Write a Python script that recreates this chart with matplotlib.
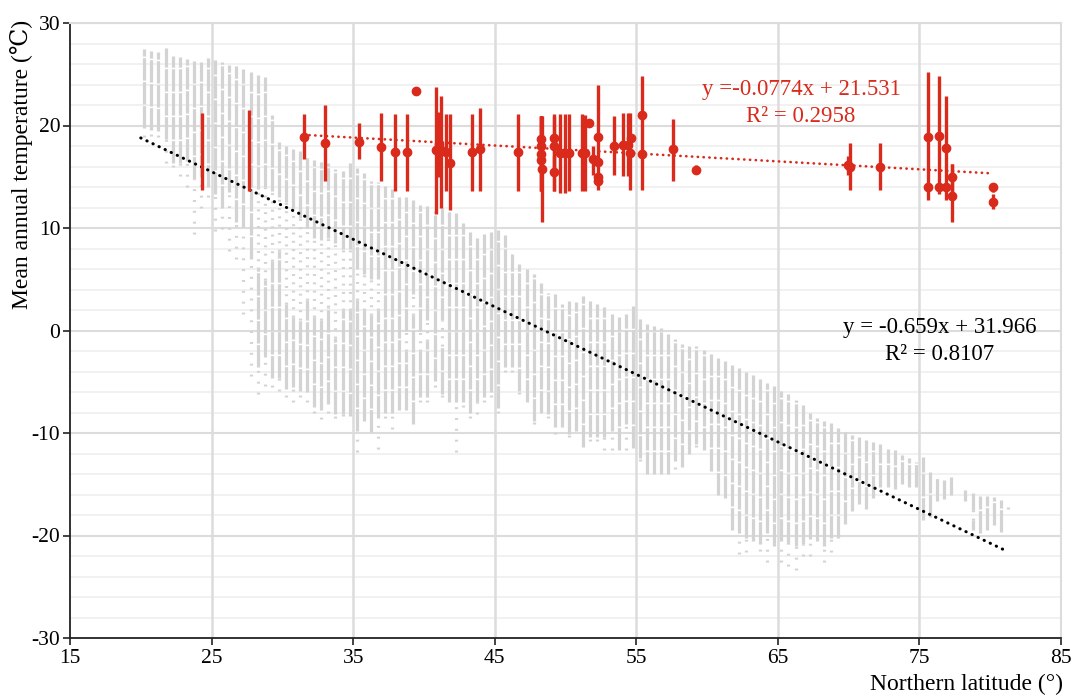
import numpy as np
import matplotlib
matplotlib.use("Agg")
import matplotlib.pyplot as plt

plt.rcParams["font.family"] = ["Liberation Serif", "DejaVu Serif"]
plt.rcParams["axes.unicode_minus"] = False

# ---- gray background cloud: one column per 0.5 deg latitude cell ----
# top / bottom of the dense strip, optional sparse gap inside it, sparse lowest dot
col_lat = [20.25, 20.75, 21.25, 21.75, 22.25, 22.75, 23.25, 23.75, 24.25, 24.75,
           25.25, 25.75, 26.25, 26.75, 27.25, 27.75, 28.25, 28.75, 29.25, 29.75,
           30.25, 30.75, 31.25, 31.75, 32.25, 32.75, 33.25, 33.75, 34.25, 34.75,
           35.25, 35.75, 36.25, 36.75, 37.25, 37.75, 38.25, 38.75, 39.25, 39.75,
           40.25, 40.75, 41.25, 41.75, 42.25, 42.75, 43.25, 43.75, 44.25, 44.75,
           45.25, 45.75, 46.25, 46.75, 47.25, 47.75, 48.25, 48.75, 49.25, 49.75,
           50.25, 50.75, 51.25, 51.75, 52.25, 52.75, 53.25, 53.75, 54.25, 54.75,
           55.25, 55.75, 56.25, 56.75, 57.25, 57.75, 58.25, 58.75, 59.25, 59.75,
           60.25, 60.75, 61.25, 61.75, 62.25, 62.75, 63.25, 63.75, 64.25, 64.75,
           65.25, 65.75, 66.25, 66.75, 67.25, 67.75, 68.25, 68.75, 69.25, 69.75,
           70.25, 70.75, 71.25, 71.75, 72.25, 72.75, 73.25, 73.75, 74.25, 74.75,
           75.25, 75.75, 76.25, 76.75, 77.25, 78.25, 78.75, 79.25, 79.75, 80.25,
           80.75, 81.25]
col_top = [27.5, 27.3, 27.2, 27.6, 26.8, 26.7, 26.5, 26.3, 26.2, 26.6,
           26.4, 26.2, 25.9, 25.8, 25.5, 25.2, 24.9, 24.7, 21.0, 18.4,
           18.0, 17.7, 17.5, 16.9, 16.6, 16.4, 16.3, 15.8, 15.6, 16.3,
           15.9, 15.4, 14.6, 14.5, 14.1, 13.8, 13.0, 13.0, 12.7, 12.2,
           12.1, 11.7, 12.0, 11.7, 11.5, 10.5, 9.6, 9.0, 9.4, 9.6,
           9.8, 9.3, 7.5, 6.5, 6.0, 5.5, 4.6, 3.7, 3.6, 2.6,
           2.9, 2.8, 3.4, 2.9, 2.6, 2.3, 1.6, 1.3, 1.6, 2.4,
           1.1, 0.6, 0.4, 0.2, -0.3, -0.8, -1.3, -1.5, -1.5, -1.9,
           -2.3, -2.7, -3.0, -3.4, -3.7, -4.0, -4.3, -4.7, -5.1, -5.4,
           -5.9, -6.2, -6.8, -7.3, -8.0, -8.5, -8.8, -9.0, -9.5, -9.9,
           -10.2, -10.4, -10.7, -10.9, -11.1, -11.6, -11.7, -12.1, -12.4, -12.8,
           -12.3, -13.8, -14.3, -14.6, -14.3, -15.6, -15.9, -16.1, -16.1, -16.2,
           -16.5, -17.2]
col_gap_hi = ([np.nan] * 16
              + [13.8, 14.0, 13.6, 13.0, 12.5, 12.0, 11.0, 10.0, 9.0, 8.8,
                 9.0, 8.5, 8.0, 8.0, 6.0, 5.5, 5.0, 5.0, np.nan, np.nan,
                 np.nan, 0.0, 3.6, 0.0, 1.0, np.nan, 1.0]
              + [np.nan] * 73 + [-17.5] + [np.nan] * 5)
col_gap_lo = ([np.nan] * 16
              + [6.0, 4.9, 6.8, 7.8, 2.6, 1.3, 1.0, 3.0, 1.3, 1.0,
                 2.3, -0.7, 2.0, 2.0, 3.0, 2.0, 1.5, 2.0, np.nan, np.nan,
                 np.nan, -2.0, 1.5, -2.0, -1.0, np.nan, -1.5]
              + [np.nan] * 73 + [-18.5] + [np.nan] * 5)
col_bot = [19.8, 19.6, 19.5, 18.7, 16.3, 16.3, 16.5, 14.8, 15.0, 14.0,
           13.3, 12.0, 13.5, 10.6, 10.1, 7.0, -3.6, -2.6, -4.6, -4.6,
           -5.7, -5.5, -5.9, -6.0, -7.5, -7.8, -7.2, -8.1, -8.1, -8.3,
           -9.8, -8.8, -9.9, -8.5, -8.0, -8.0, -7.8, -7.8, -9.1, -6.5,
           -6.5, -4.9, -6.2, -7.0, -7.0, -7.0, -8.0, -7.0, -6.5, -6.0,
           -7.6, -3.6, -3.6, -5.9, -7.0, -8.8, -8.0, -8.1, -9.4, -9.4,
           -10.1, -9.8, -11.4, -10.4, -10.4, -10.4, -9.8, -11.7, -9.1, -11.5,
           -12.4, -14.0, -14.0, -14.0, -14.0, -12.7, -13.3, -12.0, -11.1, -11.7,
           -13.7, -16.0, -16.3, -19.5, -19.8, -20.2, -20.5, -20.8, -19.8, -21.0,
           -20.5, -20.8, -21.0, -20.8, -20.3, -20.5, -21.0, -20.2, -20.2, -18.9,
           -17.6, -16.9, -17.4, -16.3, -15.3, -15.3, -15.5, -15.0, -15.3, -15.3,
           -18.5, -18.2, -16.6, -16.4, -16.0, -16.6, -19.5, -19.8, -19.5, -19.0,
           -19.7, -17.4]
col_min = [18.9, 19.0, 18.9, 16.3, 16.0, 15.1, 14.0, 9.4, 12.0, 13.0,
           9.7, 9.9, 7.8, 7.0, 1.6, -4.4, -6.2, -5.4, -5.5, -5.9,
           -6.5, -7.0, -6.5, -7.0, -8.0, -8.6, -8.0, -8.5, -8.3, -8.5,
           -11.9, -9.0, -10.0, -11.6, -8.5, -9.6, -8.0, -8.0, -9.1, -7.0,
           -7.0, -5.5, -6.5, -7.0, -11.9, -7.5, -8.5, -8.1, -7.0, -6.5,
           -8.0, -4.0, -4.0, -6.2, -7.0, -9.1, -8.0, -8.5, -10.1, -9.5,
           -10.4, -10.0, -11.4, -10.8, -10.8, -11.7, -11.7, -11.7, -11.7, -11.7,
           -12.7, -14.0, -14.2, -14.0, -14.0, -13.5, -13.5, -12.0, -11.4, -11.7,
           -13.7, -16.0, -16.5, -19.5, -21.8, -21.6, -20.5, -21.5, -22.6, -21.0,
           -22.6, -23.0, -23.4, -22.0, -22.0, -20.5, -22.6, -21.6, -20.2, -18.9,
           -17.6, -16.9, -17.4, -16.3, -15.3, -15.3, -15.5, -15.0, -15.3, -15.3,
           -18.5, -18.2, -16.6, -16.4, -16.0, -16.6, -19.5, -19.8, -19.5, -19.0,
           -19.7, -17.4]

# ---- red sites: mean with range ----
site_lat = [24.35, 27.65, 31.5, 33.0, 35.4, 36.97, 37.94, 38.78, 39.46, 40.85,
            41.05, 41.18, 41.53, 41.82, 43.39, 43.98, 46.62, 48.29, 48.29, 48.29,
            48.29, 48.33, 49.18, 49.18, 49.18, 49.58, 49.93, 50.24, 51.18, 51.39,
            51.65, 51.93, 52.31, 52.31, 52.33, 52.33, 53.46, 54.05, 54.4, 54.57,
            54.66, 55.41, 55.41, 57.6, 59.2, 69.95, 70.1, 72.2, 75.6, 75.6,
            76.35, 76.35, 76.9, 76.9, 77.3, 77.3, 80.2, 80.2]
site_mean = [np.nan, np.nan, 18.9, 18.3, 18.4, 17.9, 17.4, 17.4, 23.4, 17.6,
             18.2, 17.6, 17.4, 16.3, 17.4, 17.7, 17.4, 18.7, 18.0, 17.2,
             16.6, 15.8, 18.8, 18.0, 15.5, 17.3, 17.3, 17.3, 17.3, 17.3,
             20.2, 16.7, 18.9, 16.4, 15.0, 14.6, 18.0, 18.05, 18.05, 17.3,
             18.8, 21.0, 17.2, 17.7, 15.7, 16.1, 16.0, 16.0, 18.9, 14.0,
             19.0, 14.0, 17.8, 14.0, 15.0, 13.1, 14.0, 12.5]
site_lo = [13.7, 13.6, 16.7, 14.6, 16.7, 14.6, 13.6, 13.6, 23.4, 11.4,
           15.0, 12.0, 13.6, 11.8, 13.6, 13.6, 13.6, 15.8, 13.6, 13.6,
           13.6, 10.6, 13.6, 15.3, 13.6, 13.4, 13.4, 13.6, 13.6, 13.6,
           20.2, 15.2, 13.7, 16.4, 14.6, 14.6, 15.2, 15.1, 15.1, 13.7,
           18.8, 13.7, 17.2, 14.6, 15.3, 15.2, 13.7, 13.7, 12.7, 14.0,
           13.3, 14.0, 12.7, 14.0, 13.1, 10.6, 13.5, 11.9]
site_hi = [21.2, 21.5, 21.1, 22.0, 20.2, 21.2, 21.1, 21.1, 23.4, 23.8,
           21.3, 22.9, 21.1, 21.1, 21.1, 21.7, 21.1, 20.9, 20.9, 20.9,
           20.9, 20.9, 21.1, 20.9, 17.0, 21.1, 21.1, 21.1, 21.1, 21.0,
           20.2, 18.0, 24.0, 16.4, 15.4, 15.4, 20.9, 21.2, 21.2, 21.2,
           18.8, 24.8, 17.2, 20.6, 16.1, 17.0, 18.3, 18.3, 25.2, 14.0,
           24.8, 14.0, 22.9, 14.0, 16.2, 16.2, 14.4, 13.3]

# trend lines (Excel-style fits shown on the chart)
fit_slope = [-0.659, -0.0774]
fit_icpt = [31.966, 21.531]
fit_x0 = [20.0, 31.5]
fit_x1 = [81.0, 80.2]
fit_r2 = [0.8107, 0.2958]

GRAY = "#d3d3d3"
RED = "#d92a1c"

fig = plt.figure(figsize=(10.77, 6.95), dpi=100)
ax = fig.add_axes([70 / 1077, 57 / 695, 991 / 1077, 615 / 695])
ax.set_xlim(15, 85)
ax.set_ylim(-30, 30)

# grid
for yy in np.arange(-28, 30, 2):
    if yy % 10:
        ax.axhline(yy, color="#f0f0f0", lw=1.3, zorder=0)
for yy in np.arange(-20, 31, 10):
    ax.axhline(yy, color="#dcdcdc", lw=1.5, zorder=0)
for xx in np.arange(25, 86, 10):
    ax.axvline(xx, color="#dcdcdc", lw=1.8, zorder=0)

# gray cloud
lat = np.array(col_lat)
top = np.array(col_top)
bot = np.array(col_bot)
ghi = np.array(col_gap_hi)
glo = np.array(col_gap_lo)
low = np.array(col_min)
has_gap = ~np.isnan(ghi)
dense = (0, (7, 0.5))
sparse = (0, (0.6, 2.0))
col_lw = 2.3
ax.vlines(lat[~has_gap], bot[~has_gap], top[~has_gap], color=GRAY, lw=col_lw,
          linestyles=[dense], zorder=1)
ax.vlines(lat[has_gap], ghi[has_gap], top[has_gap], color=GRAY, lw=col_lw,
          linestyles=[dense], zorder=1)
ax.vlines(lat[has_gap], bot[has_gap], glo[has_gap], color=GRAY, lw=col_lw,
          linestyles=[dense], zorder=1)
ax.vlines(lat[has_gap], glo[has_gap], ghi[has_gap], color=GRAY, lw=col_lw,
          linestyles=[sparse], zorder=1)
tail = low < bot - 0.2
ax.vlines(lat[tail], low[tail], bot[tail], color=GRAY, lw=col_lw,
          linestyles=[(0, (0.6, 2.8))], zorder=1)

# trend lines
for i, c in enumerate(["black", RED]):
    xs = np.array([fit_x0[i], fit_x1[i]])
    ax.plot(xs, fit_slope[i] * xs + fit_icpt[i], color=c,
            lw=2.2 if c == "black" else 1.9,
            linestyle=(0, (0.1, 2.1)), dash_capstyle="round", zorder=3)

# red sites
s_lat = np.array(site_lat)
ax.vlines(s_lat, site_lo, site_hi, color=RED, lw=2.4, zorder=4)
ax.plot(s_lat, site_mean, "o", color=RED, ms=6, zorder=5, linestyle="none")

# fit labels (pixel positions of the original labels)
ax.text(801, 695 - 90, f"y ={fit_slope[1]}x + {fit_icpt[1]}", color=RED, fontsize=16.5,
        ha="center", va="center", transform=None)
ax.text(801, 695 - 116, f"R\u00b2 = {fit_r2[1]}", color=RED, fontsize=16.5,
        ha="center", va="center", transform=None)
ax.text(940, 695 - 327, f"y = {fit_slope[0]}x + {fit_icpt[0]}", color="black", fontsize=16.5,
        ha="center", va="center", transform=None)
ax.text(940, 695 - 355, f"R\u00b2 = {fit_r2[0]}", color="black", fontsize=16.5,
        ha="center", va="center", transform=None)

# spines and ticks
for side in ["top", "right"]:
    ax.spines[side].set_color("#dcdcdc")
    ax.spines[side].set_linewidth(1.5)
for side in ["left", "bottom"]:
    ax.spines[side].set_color("#222222")
    ax.spines[side].set_linewidth(1.3)
ax.set_xticks(np.arange(15, 86, 10))
ax.set_yticks(np.arange(-30, 31, 10))
ax.tick_params(direction="out", length=5, width=1.2, color="#222222", labelsize=15.5)
ax.tick_params(axis="x", pad=3)
ax.tick_params(axis="y", pad=2)

fig.text(22 / 1077, 1 - 164 / 695, "Mean annual temperature (\u2103)", rotation=90,
         ha="center", va="center", fontsize=17)
fig.text(1063 / 1077, 1 - 684 / 695, "Northern latitude (\u00b0)", ha="right", va="center",
         fontsize=17)

fig.savefig("out.png", dpi=100)
